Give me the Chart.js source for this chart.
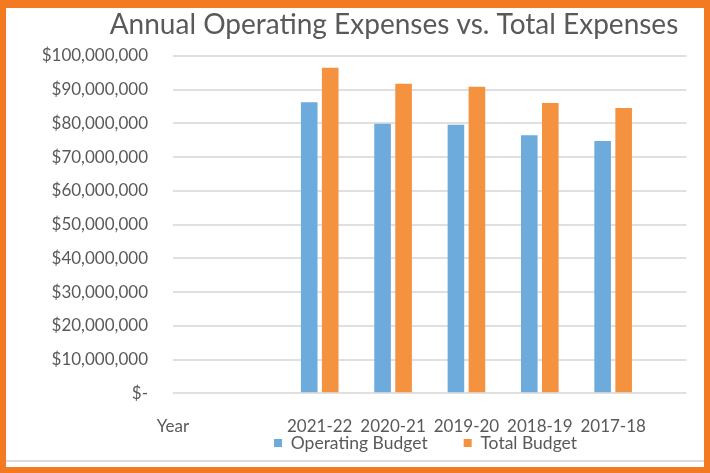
<!DOCTYPE html>
<html>
<head>
<meta charset="utf-8">
<script src="https://cdn.jsdelivr.net/npm/chart.js@4/dist/chart.umd.min.js"></script>
<style>
  html, body { margin: 0; padding: 0; background: #ffffff; }
  #wrap { position: absolute; left: 0; top: 0; width: 710px; height: 473px; }
  #frame { position: absolute; left: 0; top: 0; width: 710px; height: 473px; box-sizing: border-box;
           border-style: solid; border-color: #F47A22; border-width: 8px 6px 6px 6px; pointer-events: none; }
  #rule { position: absolute; left: 6px; top: 460px; width: 698px; height: 2px; background: #DADADA; }
</style>
</head>
<body>
<div id="wrap">
  <canvas id="c" width="710" height="473"></canvas>
  <div id="rule"></div>
  <div id="frame"></div>
</div>
<script>
const chartTitle = "Annual Operating Expenses vs. Total Expenses";
const categories = ["Year", "", "2021-22", "2020-21", "2019-20", "2018-19", "2017-18", ""];
const seriesNames = ["Operating Budget", "Total Budget"];
const operatingBudget = [null, null, 86300000, 79900000, 79600000, 76500000, 74800000, null];
const totalBudget = [null, null, 96500000, 91800000, 90900000, 86100000, 84600000, null];
const yTickMin = 0, yTickMax = 100000000, yTickStep = 10000000;

const textColor = '#595959';
const fontFamily = 'Lato, "Open Sans", sans-serif';
const legendPad = 36;

function money(v) {
  if (v === 0) return '$-';
  return '$' + Math.round(v).toString().replace(/\B(?=(\d{3})+(?!\d))/g, ',');
}

const placeBlocks = {
  id: 'placeBlocks',
  afterLayout(chart) {
    const t = chart.titleBlock;
    if (t) { t.left = 394 - 355; t.right = 394 + 355; }
    const l = chart.legend;
    if (l) {
      l.left = 274 - legendPad;
      l.right = l.left + 520;
      l.top = 443 - 8.75 - legendPad;
    }
  }
};

new Chart(document.getElementById('c'), {
  type: 'bar',
  data: {
    labels: categories,
    datasets: [
      { label: seriesNames[0], data: operatingBudget, backgroundColor: '#6DABDD',
        categoryPercentage: 0.573, barPercentage: 0.79 },
      { label: seriesNames[1], data: totalBudget, backgroundColor: '#F4923F',
        categoryPercentage: 0.573, barPercentage: 0.79 }
    ]
  },
  plugins: [placeBlocks],
  options: {
    responsive: false,
    animation: false,
    layout: { padding: { top: 0, right: 12, bottom: 0, left: 0 } },
    plugins: {
      title: {
        display: true, text: chartTitle, color: textColor,
        font: { family: fontFamily, size: 28, weight: 'normal', lineHeight: 1.2 },
        padding: { top: 7.7, bottom: 14.7 }
      },
      legend: {
        display: true, position: 'bottom', align: 'start', fullSize: false,
        maxHeight: 35.7,
        labels: { color: textColor, boxWidth: 8, boxHeight: 8, padding: legendPad,
                  font: { family: fontFamily, size: 17.5 } }
      },
      tooltip: { enabled: false }
    },
    scales: {
      x: {
        type: 'category', offset: false,
        grid: { display: false, drawTicks: false },
        border: { display: false },
        ticks: { color: textColor, autoSkip: false, maxRotation: 0, minRotation: 0, padding: 23.5,
                 font: { family: fontFamily, size: 17, lineHeight: 1.2 } },
        afterFit(s) { s.height = 44; }
      },
      y: {
        min: yTickMin, max: yTickMax,
        grid: { color: '#E0E0E0', lineWidth: 2, drawTicks: false },
        border: { display: false },
        ticks: { stepSize: yTickStep, color: textColor, padding: 25,
                 font: { family: fontFamily, size: 17 },
                 callback: (v) => money(v) },
        afterFit(s) { s.width = 173; }
      }
    }
  }
});
</script>
</body>
</html>
